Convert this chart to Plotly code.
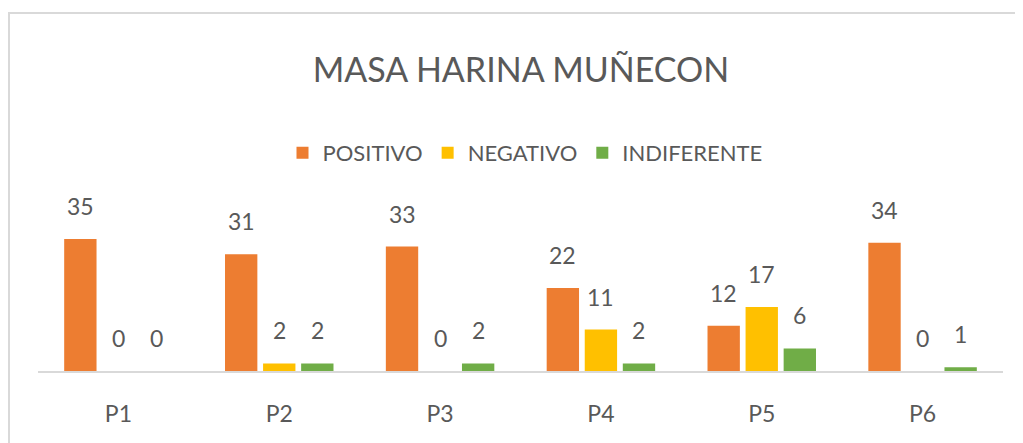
import plotly.graph_objects as go

categories = ["P1", "P2", "P3", "P4", "P5", "P6"]
positivo = [35, 31, 33, 22, 12, 34]
negativo = [0, 2, 0, 11, 17, 0]
indiferente = [0, 2, 2, 2, 6, 1]
series_names = ["POSITIVO", "NEGATIVO", "INDIFERENTE"]
series_colors = ["#ED7D31", "#FFC000", "#70AD47"]
title_text = "MASA HARINA MUÑECON"

# the page body has an 8px margin; work in screen pixels and convert
OFF = 8
W, H = 1023 - OFF, 443 - OFF
ml = 38 - OFF
plot_right = 1003 - OFF
baseline = 371 - OFF
mt = 175 - OFF
mr = W - plot_right
mb = H - baseline
plot_w = W - ml - mr
plot_h = H - mt - mb

FONT = "Lato, sans-serif"
GRAY = "#595959"
BARGAP = 0.29
LABEL_SIZE = 23

series_values = [positivo, negativo, indiferente]

fig = go.Figure()
for name, vals, col in zip(series_names, series_values, series_colors):
    fig.add_trace(go.Bar(
        x=categories, y=vals, name=name,
        marker=dict(color=col, line=dict(width=0)),
    ))

# value labels placed above each bar through the axes
slot_px = plot_w / len(categories) * (1 - BARGAP) / len(series_values)
annotations = []
for i, vals in enumerate(series_values):
    shift = (i - (len(series_values) - 1) / 2) * slot_px
    for cat, v in zip(categories, vals):
        annotations.append(dict(
            x=cat, y=v, xref="x", yref="y", text=str(v), showarrow=False,
            xshift=shift, yshift=17, yanchor="bottom", xanchor="center",
            font=dict(family=FONT, size=LABEL_SIZE, color=GRAY),
        ))

def px_x(p):
    return (p - OFF - ml) / plot_w

def px_y(p):
    return (baseline - (p - OFF)) / plot_h

fig.update_layout(
    width=W, height=H,
    margin=dict(l=ml, r=mr, t=mt, b=mb),
    paper_bgcolor="white", plot_bgcolor="white",
    barmode="group", bargap=BARGAP, bargroupgap=0.15,
    font=dict(family=FONT, color=GRAY),
    title=dict(text=title_text, x=px_x(521), xref="paper", xanchor="center",
               y=1 - (70 - OFF) / H, yref="container", yanchor="middle",
               font=dict(family=FONT, size=34, color=GRAY)),
    showlegend=True,
    legend=dict(orientation="h", x=px_x(525), xanchor="center", y=px_y(153), yanchor="middle",
                font=dict(family=FONT, size=22, color=GRAY), itemwidth=30,
                bgcolor="rgba(0,0,0,0)"),
    xaxis=dict(showline=True, linecolor="#D9D9D9", linewidth=1.5, ticks="",
               tickfont=dict(family=FONT, size=23, color=GRAY), ticklabelstandoff=22,
               showgrid=False, zeroline=False, fixedrange=True),
    yaxis=dict(visible=False, range=[0, plot_h / 3.77], showgrid=False, zeroline=False),
    annotations=annotations,
    shapes=[
        dict(type="line", xref="paper", yref="paper", x0=px_x(8), x1=px_x(1030), y0=px_y(13), y1=px_y(13),
             line=dict(color="#D9D9D9", width=2)),
        dict(type="line", xref="paper", yref="paper", x0=px_x(9), x1=px_x(9), y0=px_y(13), y1=px_y(450),
             line=dict(color="#D9D9D9", width=2)),
    ],
)

fig.write_html("out.html")
